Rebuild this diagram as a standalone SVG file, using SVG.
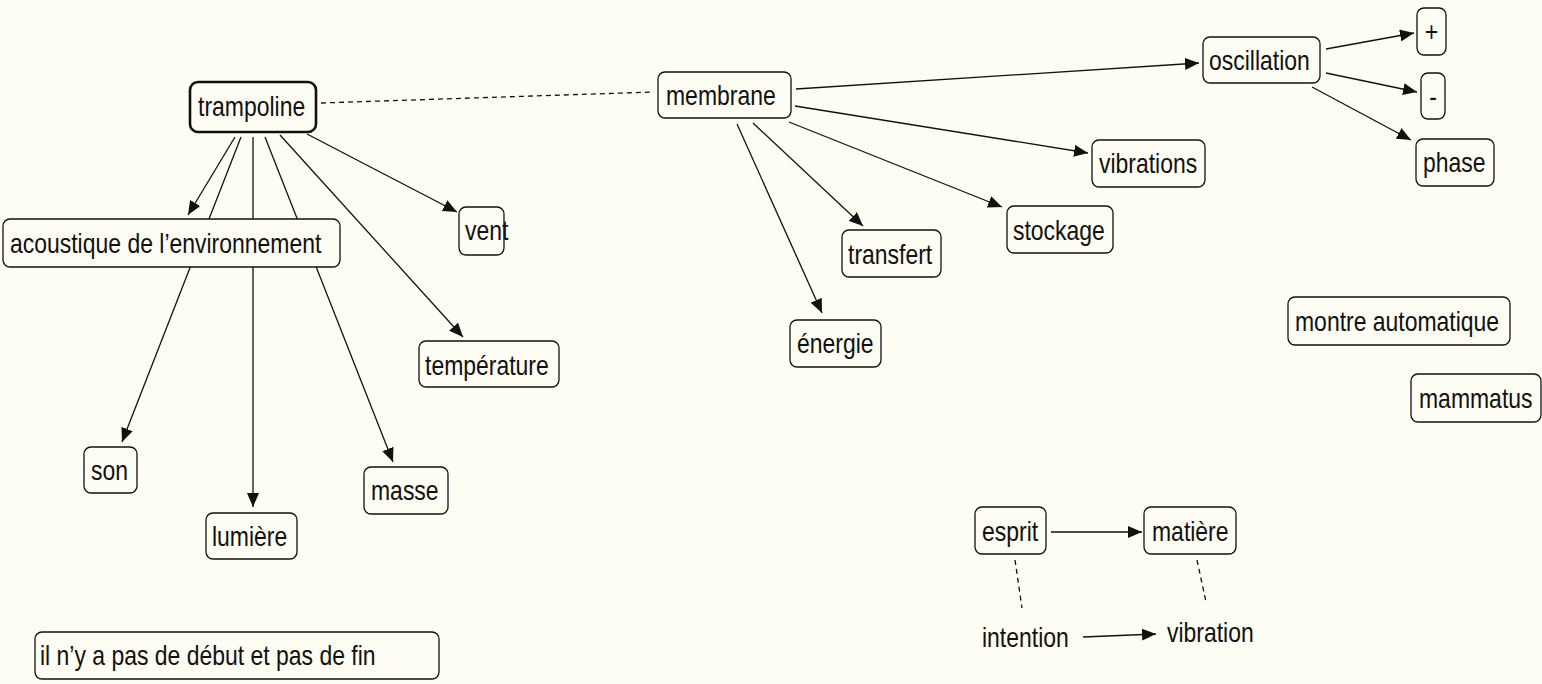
<svg xmlns="http://www.w3.org/2000/svg" width="1542" height="684" viewBox="0 0 1542 684">
<defs>
<style>
.bg{fill:#fdfdf3}
.n rect{fill:#fdfdf3;stroke:#111;stroke-width:1.3}
.n.main rect{stroke-width:2.6}
text{font-family:"Liberation Sans",Arial,sans-serif;font-size:28px;fill:#111}
.c line{stroke:#111;stroke-width:1.3;fill:none}
.c line.a{marker-end:url(#ah)}
.c line.d{stroke-dasharray:5,4}
</style>
<marker id="ah" viewBox="0 0 14 12" refX="14" refY="6" markerWidth="14" markerHeight="12" markerUnits="userSpaceOnUse" orient="auto">
<path d="M0,0 L14,6 L0,12 z" fill="#111"/>
</marker>
</defs>
<rect class="bg" x="0" y="0" width="1542" height="684"/>
<g class="c" id="connectors">
<line class="d" x1="321" y1="103" x2="654" y2="92"/>
<line class="a" x1="235" y1="137" x2="188" y2="215"/>
<line class="a" x1="241" y1="137" x2="122" y2="442"/>
<line class="a" x1="253" y1="137" x2="253" y2="507"/>
<line class="a" x1="265" y1="137" x2="393" y2="462"/>
<line class="a" x1="280" y1="135" x2="463" y2="337"/>
<line class="a" x1="307" y1="134" x2="457" y2="212"/>
<line class="a" x1="796" y1="89" x2="1199" y2="63"/>
<line class="a" x1="795" y1="106" x2="1088" y2="153"/>
<line class="a" x1="789" y1="122" x2="1002" y2="207"/>
<line class="a" x1="753" y1="123" x2="863" y2="226"/>
<line class="a" x1="737" y1="124" x2="822" y2="313"/>
<line class="a" x1="1326" y1="49" x2="1414" y2="33"/>
<line class="a" x1="1326" y1="73" x2="1417" y2="92"/>
<line class="a" x1="1312" y1="87" x2="1411" y2="140"/>
<line class="a" x1="1051" y1="532" x2="1142" y2="532"/>
<line class="a" x1="1083" y1="637" x2="1156" y2="634"/>
<line class="d" x1="1015" y1="560" x2="1022" y2="608"/>
<line class="d" x1="1197" y1="560" x2="1206" y2="602"/>
</g>
<g class="n main" id="n-trampoline"><rect x="190" y="82" width="126" height="50" rx="8"/><text transform="translate(198,116) scale(0.82,1)">trampoline</text></g>
<g class="n" id="n-membrane"><rect x="658" y="72" width="133" height="46" rx="7"/><text transform="translate(666,105) scale(0.82,1)">membrane</text></g>
<g class="n" id="n-acoustique"><rect x="3" y="219" width="337" height="48" rx="7"/><text transform="translate(10,253) scale(0.82,1)">acoustique de l’environnement</text></g>
<g class="n" id="n-vent"><rect x="459" y="207" width="45" height="48" rx="7"/><text transform="translate(465,240) scale(0.82,1)">vent</text></g>
<g class="n" id="n-temperature"><rect x="419" y="341" width="140" height="46" rx="7"/><text transform="translate(425,375) scale(0.82,1)">température</text></g>
<g class="n" id="n-son"><rect x="84" y="447" width="53" height="46" rx="7"/><text transform="translate(91,480) scale(0.82,1)">son</text></g>
<g class="n" id="n-lumiere"><rect x="206" y="513" width="91" height="46" rx="7"/><text transform="translate(212,546) scale(0.82,1)">lumière</text></g>
<g class="n" id="n-masse"><rect x="364" y="467" width="84" height="47" rx="7"/><text transform="translate(371,500) scale(0.82,1)">masse</text></g>
<g class="n" id="n-oscillation"><rect x="1203" y="37" width="117" height="46" rx="7"/><text transform="translate(1209,70) scale(0.82,1)">oscillation</text></g>
<g class="n" id="n-plus"><rect x="1417" y="8" width="29" height="47" rx="7"/><text transform="translate(1431.5,41) scale(0.82,1)" text-anchor="middle">+</text></g>
<g class="n" id="n-minus"><rect x="1421" y="73" width="24" height="46" rx="7"/><text transform="translate(1433,106) scale(0.82,1)" text-anchor="middle">-</text></g>
<g class="n" id="n-phase"><rect x="1416" y="139" width="78" height="47" rx="7"/><text transform="translate(1423,172) scale(0.82,1)">phase</text></g>
<g class="n" id="n-vibrations"><rect x="1092" y="140" width="113" height="47" rx="7"/><text transform="translate(1099,173) scale(0.82,1)">vibrations</text></g>
<g class="n" id="n-stockage"><rect x="1007" y="206" width="106" height="47" rx="7"/><text transform="translate(1013,240) scale(0.82,1)">stockage</text></g>
<g class="n" id="n-transfert"><rect x="842" y="230" width="99" height="47" rx="7"/><text transform="translate(848,264) scale(0.82,1)">transfert</text></g>
<g class="n" id="n-energie"><rect x="790" y="320" width="91" height="47" rx="7"/><text transform="translate(797,353) scale(0.82,1)">énergie</text></g>
<g class="n" id="n-montre"><rect x="1288" y="297" width="222" height="48" rx="7"/><text transform="translate(1295,331) scale(0.82,1)">montre automatique</text></g>
<g class="n" id="n-mammatus"><rect x="1411" y="374" width="130" height="48" rx="7"/><text transform="translate(1419,408) scale(0.82,1)">mammatus</text></g>
<g class="n" id="n-debut"><rect x="35" y="632" width="404" height="47" rx="7"/><text transform="translate(40,665) scale(0.82,1)">il n’y a pas de début et pas de fin</text></g>
<g class="n" id="n-esprit"><rect x="975" y="507" width="71" height="47" rx="7"/><text transform="translate(982,541) scale(0.82,1)">esprit</text></g>
<g class="n" id="n-matiere"><rect x="1144" y="507" width="92" height="47" rx="7"/><text transform="translate(1152,541) scale(0.82,1)">matière</text></g>
<g id="n-intention"><text transform="translate(982,647) scale(0.82,1)">intention</text></g>
<g id="n-vibration"><text transform="translate(1167,642) scale(0.82,1)">vibration</text></g>
</svg>
